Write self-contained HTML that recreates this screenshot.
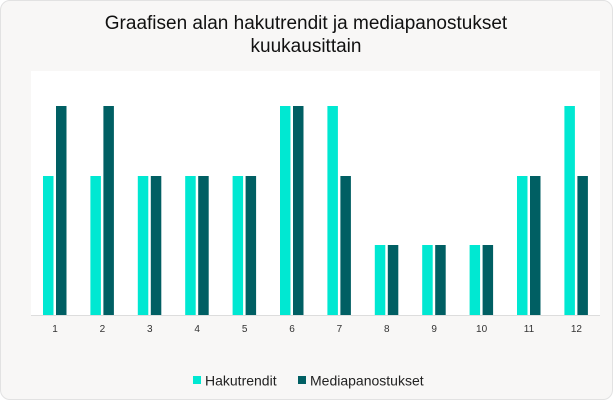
<!DOCTYPE html>
<html><head><meta charset="utf-8"><style>
body{margin:0;width:613px;height:400px;background:#fff;font-family:"Liberation Sans",sans-serif;overflow:hidden}
.card{position:absolute;left:0;top:0;width:611px;height:398px;border:1px solid #e2e2e2;border-radius:10px;background:#f8f7f6}
</style></head><body>
<div class="card"></div>
<svg width="613" height="400" style="position:absolute;left:0;top:0">
<text x="306" y="29" text-anchor="middle" font-size="19" fill="#111">Graafisen alan hakutrendit ja mediapanostukset</text>
<text x="306" y="52" text-anchor="middle" font-size="19" fill="#111">kuukausittain</text>
<rect x="31" y="71" width="569" height="244" fill="#fff"/>
<line x1="31" y1="315.5" x2="600" y2="315.5" stroke="#ddd"/>
<g id="bars"></g>
<g font-size="10" fill="#333" text-anchor="middle" id="lbl"></g>
<rect x="193" y="376" width="8" height="8" fill="#00e8d2"/>
<text x="205" y="385.5" font-size="14" fill="#222">Hakutrendit</text>
<rect x="298" y="376" width="8" height="8" fill="#005f63"/>
<text x="310" y="385.5" font-size="14" fill="#222">Mediapanostukset</text>
</svg>
<script>
var a=[2,2,2,2,2,3,3,1,1,1,2,3],b=[3,3,2,2,2,3,2,1,1,1,2,2],y={1:245,2:176,3:106};
var g=document.getElementById('bars'),l=document.getElementById('lbl'),s='',t='';
for(var i=0;i<12;i++){var x=43+i*47.4;
s+='<rect x="'+x+'" y="'+y[a[i]]+'" width="10.5" height="'+(315-y[a[i]])+'" fill="#00e8d2"/>';
s+='<rect x="'+(x+13)+'" y="'+y[b[i]]+'" width="10.5" height="'+(315-y[b[i]])+'" fill="#005f63"/>';
t+='<text x="'+(x+12)+'" y="332">'+(i+1)+'</text>';}
g.innerHTML=s;l.innerHTML=t;
</script>
</body></html>
